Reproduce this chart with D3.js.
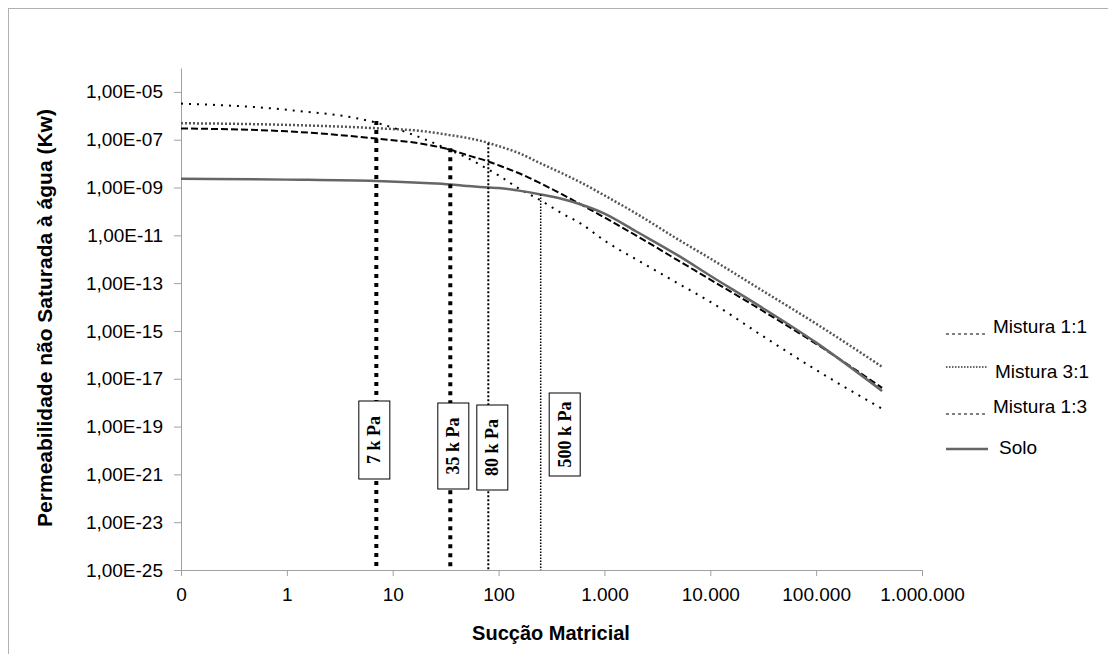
<!DOCTYPE html>
<html>
<head>
<meta charset="utf-8">
<script src="https://cdn.jsdelivr.net/npm/d3@7"></script>
<style>
  body { margin: 0; background: #fff; }
  text { font-family: "Liberation Sans", Arial, sans-serif; }
</style>
</head>
<body>
<svg width="1108" height="654"></svg>
<script>
// sucção matricial (kPa) and permeability values
const suction = [0.1, 1, 7, 20, 35, 50, 80, 100, 150, 250, 400, 600, 1000, 2000, 5000, 10000, 30000, 100000, 420000]
const mistura11 = [2.95e-7, 2.24e-7, 1.12e-7, 6.46e-8, 3.8e-8, 2.3e-8, 1.23e-8, 8.5e-9, 4.27e-9, 1.48e-9, 5.13e-10, 1.95e-10, 5.6e-11, 9.77e-12, 8.71e-13, 1.41e-13, 7.76e-15, 2.88e-16, 4.17e-18]
const mistura31 = [4.9e-7, 4.17e-7, 3.02e-7, 2.24e-7, 1.55e-7, 1.2e-7, 7.4e-8, 5.4e-8, 2.95e-8, 1.02e-8, 3.89e-9, 1.62e-9, 4.68e-10, 8.13e-11, 6.61e-12, 1.07e-12, 5.37e-14, 2.0e-15, 3.16e-17]
const mistura13 = [3.24e-6, 1.78e-6, 5.13e-7, 1.05e-7, 3.63e-8, 1.8e-8, 5.75e-9, 3.24e-9, 1.0e-9, 2.88e-10, 8.13e-11, 3.09e-11, 6.03e-12, 9.77e-13, 9.55e-14, 1.66e-14, 6.92e-16, 2.34e-17, 5.5e-19]
const solo = [2.34e-9, 2.14e-9, 1.86e-9, 1.55e-9, 1.35e-9, 1.17e-9, 1.0e-9, 9.55e-10, 7.59e-10, 5.13e-10, 3.3e-10, 1.95e-10, 8.13e-11, 1.45e-11, 1.41e-12, 2.04e-13, 1.02e-14, 3.24e-16, 3.09e-18]

const seriesNames = ["Mistura 1:1", "Mistura 3:1", "Mistura 1:3", "Solo"]
const seriesValues = [mistura11, mistura31, mistura13, solo]

const xTicks = [0.1, 1, 10, 100, 1000, 10000, 100000, 1000000]
const yTicks = [1e-25, 1e-23, 1e-21, 1e-19, 1e-17, 1e-15, 1e-13, 1e-11, 1e-9, 1e-7, 1e-5]

// vertical reference lines: suction value, top of the line, label
const refLabels = ["7 k Pa", "35 k Pa", "80 k Pa", "500 k Pa"]
const refX = [7, 35, 80, 250]
const refTop = [6.1e-7, 4.4e-8, 7.1e-8, 5.1e-10]

// styles
const lineStyle = [
  {stroke: "#000", width: 2, dash: "7,3"},
  {stroke: "#555", width: 2.5, dash: "2,2"},
  {stroke: "#000", width: 2, dash: "2,6"},
  {stroke: "#666", width: 2.5, dash: null}
]
const legendStyle = [
  {stroke: "#000", width: 1, dash: "3,3"},
  {stroke: "#333", width: 1.5, dash: "1.5,1.5"},
  {stroke: "#000", width: 1, dash: "3,3"},
  {stroke: "#666", width: 2.5, dash: null}
]
const legendTextY = [326, 371, 406, 447]
const legendLineY = [334, 367, 414, 449]
const legendTextX = [993, 995, 993, 999]

const refStyle = [
  {width: 4, dash: "4,5"},
  {width: 4, dash: "4,5"},
  {width: 2, dash: "2,2"},
  {width: 1.5, dash: "1.5,1.5"}
]
const refBox = [
  {dx: -2, top: 401, h: 78},
  {dx: 3, top: 403, h: 86},
  {dx: 4, top: 405, h: 85},
  {dx: 24, top: 393, h: 83}
]

let svg = d3.select("svg")

svg.append("rect")
  .attr("x", 8.5).attr("y", 8.5)
  .attr("width", 1120).attr("height", 680)
  .attr("fill", "none")
  .attr("stroke", "#b0b0b0")

const x = d3.scaleLog().domain([0.1, 1e6]).range([181, 922])
const y = d3.scaleLog().domain([1e-25, 1e-4]).range([570, 68])

const ptLocale = d3.formatLocale({decimal: ",", thousands: ".", grouping: [3], currency: ["", ""]})
const xFmt = ptLocale.format(",.0f")
const yFmt = (v) => {
  let e = Math.round(Math.log10(v))
  let s = Math.abs(e) < 10 ? "0" + Math.abs(e) : "" + Math.abs(e)
  return "1,00E" + (e < 0 ? "-" : "+") + s
}

svg.append("g")
  .attr("transform", "translate(0,570)")
  .call(d3.axisBottom(x).tickValues(xTicks).tickFormat(xFmt).tickSize(6).tickSizeOuter(0).tickPadding(12))

svg.append("g")
  .attr("transform", "translate(181,0)")
  .call(d3.axisLeft(y).tickValues(yTicks).tickFormat(yFmt).tickSize(7).tickSizeOuter(0).tickPadding(11))

svg.selectAll(".domain, .tick line").attr("stroke", "#a0a0a0")
svg.selectAll(".tick text")
  .style("font-family", "'Liberation Sans', Arial, sans-serif")
  .attr("font-size", "19px")
  .attr("fill", "#000")

svg.append("text")
  .attr("x", 551)
  .attr("y", 640)
  .attr("text-anchor", "middle")
  .attr("font-size", "20px")
  .attr("font-weight", "bold")
  .text("Sucção Matricial")

svg.append("text")
  .attr("transform", "translate(52,318) rotate(-90)")
  .attr("text-anchor", "middle")
  .attr("font-size", "21px")
  .attr("font-weight", "bold")
  .text("Permeabilidade não Saturada à água (Kw)")

// curves
const line = d3.line()
  .x((d) => x(d[0]))
  .y((d) => y(d[1]))
  .curve(d3.curveMonotoneX)

seriesValues.forEach((vals, i) => {
  let pts = suction.map((s, j) => [s, vals[j]])
  svg.append("path")
    .datum(pts)
    .attr("d", line)
    .attr("fill", "none")
    .attr("stroke", lineStyle[i].stroke)
    .attr("stroke-width", lineStyle[i].width)
    .attr("stroke-dasharray", lineStyle[i].dash)
})

// vertical reference lines and labels
refX.forEach((v, i) => {
  svg.append("line")
    .attr("x1", x(v)).attr("x2", x(v))
    .attr("y1", y(refTop[i])).attr("y2", y(1e-25))
    .attr("stroke", "#000")
    .attr("stroke-width", refStyle[i].width)
    .attr("stroke-dasharray", refStyle[i].dash)

  let cx = x(v) + refBox[i].dx
  svg.append("rect")
    .attr("x", cx - 15.5)
    .attr("y", refBox[i].top)
    .attr("width", 31)
    .attr("height", refBox[i].h)
    .attr("fill", "#fff")
    .attr("stroke", "#000")
    .attr("stroke-width", 1)

  svg.append("text")
    .attr("transform", "translate(" + (cx + 6) + "," + (refBox[i].top + refBox[i].h / 2) + ") rotate(-90)")
    .attr("text-anchor", "middle")
    .style("font-family", "'Liberation Serif', 'Times New Roman', serif")
    .attr("font-weight", "bold")
    .attr("font-size", "18px")
    .text(refLabels[i])
})

// legend
seriesNames.forEach((name, i) => {
  svg.append("line")
    .attr("x1", 946).attr("x2", 988)
    .attr("y1", legendLineY[i]).attr("y2", legendLineY[i])
    .attr("stroke", legendStyle[i].stroke)
    .attr("stroke-width", legendStyle[i].width)
    .attr("stroke-dasharray", legendStyle[i].dash)

  svg.append("text")
    .attr("x", legendTextX[i])
    .attr("y", legendTextY[i])
    .attr("dy", "0.35em")
    .attr("font-size", "19px")
    .text(name)
})
</script>
</body>
</html>
